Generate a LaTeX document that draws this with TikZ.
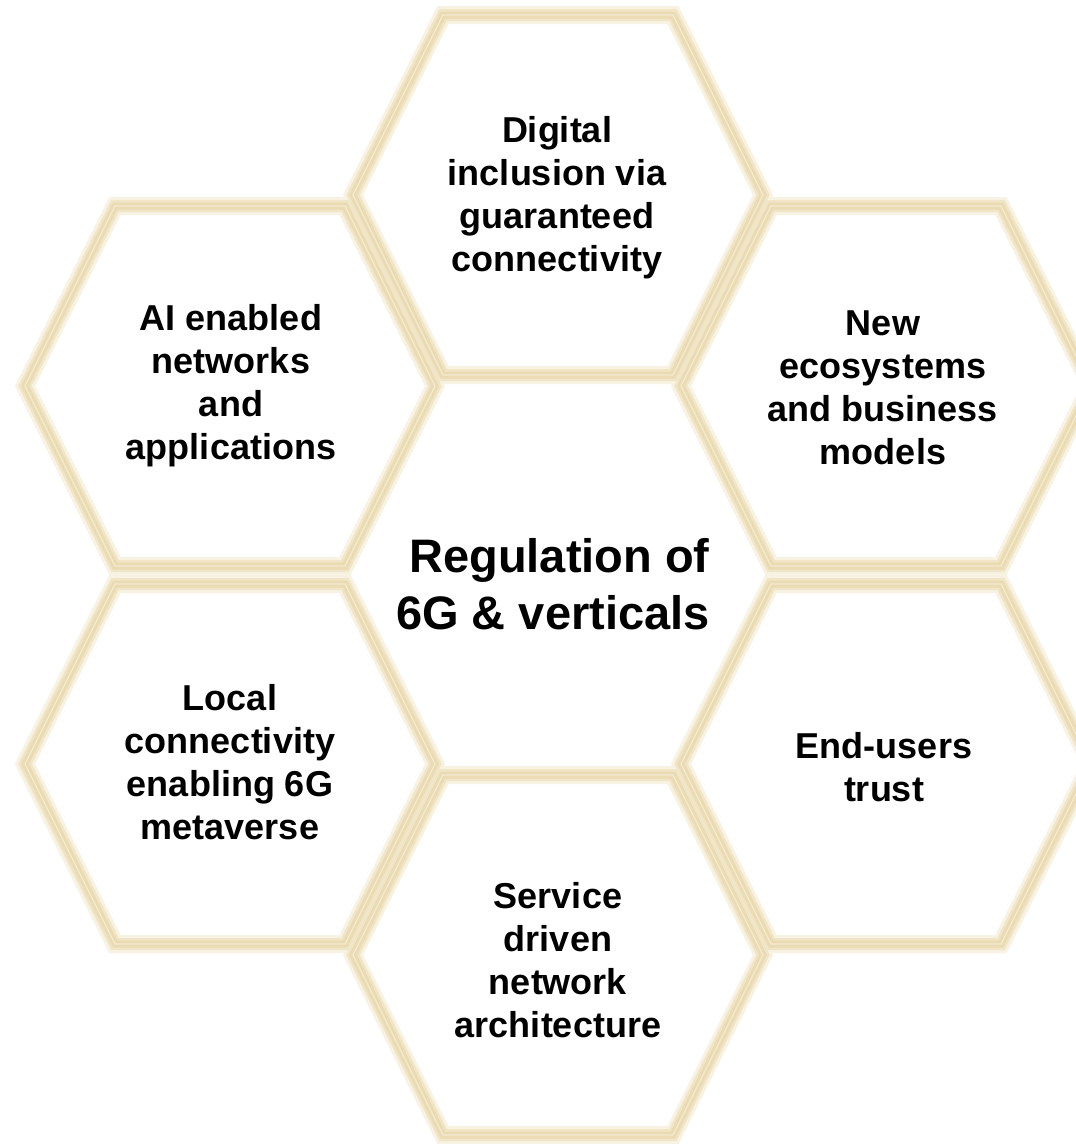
\documentclass[tikz,border=0pt]{standalone}
\usepackage{fontspec}
\setmainfont{Liberation Sans}
\definecolor{glowA}{HTML}{F8F2E2}
\definecolor{glowB}{HTML}{F0E5C6}
\definecolor{glowC}{HTML}{EADBB2}
\definecolor{glowD}{HTML}{F3EAD2}
\begin{document}
\begin{tikzpicture}[x=1pt,y=-1pt,
  hexA/.style={draw=glowA,line width=18pt,line join=miter},
  hexB/.style={draw=glowB,line width=12pt,line join=miter},
  hexC/.style={draw=glowC,line width=7pt,line join=miter},
  hexD/.style={draw=glowD,line width=1.2pt,line join=miter},
  lbl/.style={font=\bfseries\fontsize{36}{43}\selectfont,align=center,text=black},
  big/.style={font=\bfseries\fontsize{47}{57}\selectfont,align=center,text=black}]
\useasboundingbox (0,0) rectangle (1076,1144);
\fill[white] (0,0) rectangle (1076,1144);
\foreach \sty in {hexA,hexB,hexC,hexD}{
  \foreach \cx/\cy in {558/195,230/386,886/386,230/764,886/764,558/955}{
    \draw[\sty] (\cx,\cy) ++(205,0) -- ++(-90,-180) -- ++(-230,0) -- ++(-90,180)
      -- ++(90,180) -- ++(230,0) -- cycle;
  }
}
\node[lbl] (top) at (557,198) {Digital\\inclusion via\\guaranteed\\connectivity};
\node[lbl] (ul) at (231,386) {AI enabled\\networks\\and\\applications};
\node[lbl] (ur) at (883,388) {New\\ecosystems\\and business\\models};
\node[big] (mid) at (553,584) {\hspace{13pt}Regulation of\\6G \& verticals};
\node[lbl] (ll) at (230,762) {Local\\connectivity\\enabling 6G\\metaverse};
\node[lbl] (lr) at (884,767) {End-users\\trust};
\node[lbl] (bot) at (558,960) {Service\\driven\\network\\architecture};
\end{tikzpicture}
\end{document}
